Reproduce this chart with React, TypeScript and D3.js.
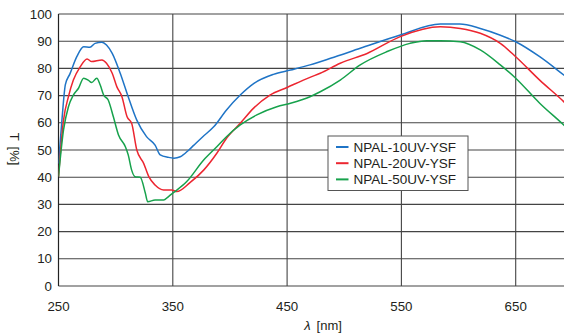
import React, { useRef, useEffect } from "react";
import * as d3 from "d3";

const X_TICKS = [250, 350, 450, 550, 650];
const Y_TICKS = [0, 10, 20, 30, 40, 50, 60, 70, 80, 90, 100];
const SERIES_NAMES = ["NPAL-10UV-YSF", "NPAL-20UV-YSF", "NPAL-50UV-YSF"];
const SERIES_COLORS = ["#1f74c6", "#ec2630", "#17a24c"];

// NPAL-10UV-YSF
const NM_10 = [250, 253, 256, 260, 266, 272, 277.5, 282, 288, 292, 297, 304, 310, 318.5, 327, 334.5, 339, 346, 351, 356.5, 364, 368, 376, 386, 397, 409, 421, 438, 453, 470, 488, 514, 549, 584, 601, 619, 636, 650, 671, 692, 700];
const T_10 = [45, 61, 74, 78, 84.3, 88, 87.8, 89.2, 89.6, 88.6, 85.5, 78.2, 70.8, 61, 54.9, 51.8, 48.2, 47.3, 47, 47.5, 50, 51.6, 54.8, 58.6, 64.7, 70.2, 74.5, 77.8, 79.4, 81.3, 83.7, 87.4, 92.3, 96.3, 96.3, 94.7, 92.3, 89.8, 84.3, 77.6, 75];

// NPAL-20UV-YSF
const NM_20 = [250, 254.4, 258.7, 263, 269, 275, 279, 288, 292, 297, 301, 305.5, 310, 314, 318.5, 324.5, 329, 334.5, 342, 349, 353.5, 365, 377, 388.5, 397, 409, 420.5, 435, 450, 470, 479, 496.5, 520, 549, 584, 601.5, 619, 636.5, 650, 671, 692, 700];
const T_20 = [40.2, 61, 69.6, 75.7, 80.6, 83.5, 82.5, 83.1, 81.9, 78.2, 73.3, 69.6, 62.2, 59.8, 50, 45.1, 40.2, 37.1, 35.3, 35.3, 34.7, 38, 42.6, 48.8, 54.3, 59.8, 65.3, 70.2, 73, 76.7, 78.2, 81.9, 85.5, 91.7, 95.3, 94.7, 92.9, 89.2, 84.3, 75.7, 67.8, 64.5];

// NPAL-50UV-YSF
const NM_50 = [250, 254.4, 258.7, 263, 267.5, 272, 276, 279, 283.5, 286.5, 289.5, 293.5, 298, 302.5, 308.5, 311, 314, 317, 321.5, 326, 328, 334.5, 342, 346, 350.5, 362, 377, 388.5, 397, 409, 423.5, 441, 453, 470, 479, 496.5, 514, 537, 557.5, 572, 584, 601.5, 619, 636.5, 650, 671, 692, 700];
const T_50 = [40.2, 57.4, 65.9, 70.2, 72.7, 76.4, 75.7, 74.8, 76.4, 73.9, 70.2, 68.4, 62.2, 55.5, 51.2, 48.2, 42.6, 40.2, 40, 34.1, 31, 31.6, 31.6, 32.8, 34.3, 38.3, 46.3, 51.2, 54.9, 59.2, 62.9, 65.9, 67.2, 69.6, 71.4, 75.7, 81.3, 86.1, 89.2, 90.2, 90.2, 89.8, 86.8, 81.3, 76.4, 67.2, 59.2, 56];

const SERIES_NM = [NM_10, NM_20, NM_50];
const SERIES_T = [T_10, T_20, T_50];

const W = 564;
const H = 336;
const FONT = "'Liberation Sans', Arial, sans-serif";

const App: React.FC = () => {
  const svgRef = useRef<SVGSVGElement | null>(null);

  useEffect(() => {
    if (!svgRef.current) return;
    const svg = d3.select(svgRef.current);
    svg.selectAll("*").remove();

    const left = 58.5;
    const top = 14;
    const bottom = 286;
    const x = d3.scaleLinear().domain([250, 700]).range([left, left + 450 * 1.143]);
    const y = d3.scaleLinear().domain([0, 100]).range([bottom, top]);

    svg
      .append("defs")
      .append("clipPath")
      .attr("id", "plot-clip")
      .append("rect")
      .attr("x", left)
      .attr("y", top - 2)
      .attr("width", W - left)
      .attr("height", bottom - top + 4);

    const g = svg.append("g");

    /* grid */
    g.selectAll(".hgrid")
      .data(Y_TICKS)
      .join("line")
      .attr("x1", left)
      .attr("x2", W)
      .attr("y1", (d) => y(d))
      .attr("y2", (d) => y(d))
      .attr("stroke", "#444")
      .attr("stroke-width", 1.1);

    g.selectAll(".vgrid")
      .data(X_TICKS.slice(1))
      .join("line")
      .attr("x1", (d) => x(d))
      .attr("x2", (d) => x(d))
      .attr("y1", top)
      .attr("y2", bottom)
      .attr("stroke", "#444")
      .attr("stroke-width", 1.1);

    g.append("line")
      .attr("x1", left)
      .attr("x2", left)
      .attr("y1", top)
      .attr("y2", bottom)
      .attr("stroke", "#222")
      .attr("stroke-width", 1.2);

    /* tick labels */
    g.selectAll(".ylab")
      .data(Y_TICKS)
      .join("text")
      .attr("x", 52)
      .attr("y", (d) => y(d) + 4.6)
      .attr("text-anchor", "end")
      .attr("font-family", FONT)
      .attr("font-size", "13.3px")
      .attr("fill", "#231f20")
      .text((d) => d);

    g.selectAll(".xlab")
      .data(X_TICKS)
      .join("text")
      .attr("x", (d) => x(d))
      .attr("y", 310.5)
      .attr("text-anchor", "middle")
      .attr("font-family", FONT)
      .attr("font-size", "13.3px")
      .attr("fill", "#231f20")
      .text((d) => d);

    const xt = g
      .append("text")
      .attr("x", 323)
      .attr("y", 330)
      .attr("text-anchor", "middle")
      .attr("font-family", FONT)
      .attr("font-size", "13px")
      .attr("fill", "#231f20");
    xt.append("tspan").attr("font-style", "italic").text("λ");
    xt.append("tspan").attr("dx", 6).text("[nm]");

    const yt = g
      .append("text")
      .attr("transform", "translate(10,149) rotate(90)")
      .attr("text-anchor", "middle")
      .attr("font-family", FONT)
      .attr("font-size", "13px")
      .attr("fill", "#231f20");
    yt.append("tspan").text("T");
    yt.append("tspan").attr("dx", 6).text("[%]");

    /* curves */
    const line = d3
      .line<[number, number]>()
      .x((d) => x(d[0]))
      .y((d) => y(d[1]))
      .curve(d3.curveMonotoneX);

    const curves = g.append("g").attr("clip-path", "url(#plot-clip)");
    SERIES_NAMES.forEach((name, i) => {
      const pts = SERIES_NM[i].map((nm, k) => [nm, SERIES_T[i][k]] as [number, number]);
      curves
        .append("path")
        .attr("d", line(pts))
        .attr("fill", "none")
        .attr("stroke", SERIES_COLORS[i])
        .attr("stroke-width", 1.5);
    });

    /* legend */
    const lg = g.append("g").attr("transform", "translate(328,136)");
    lg.append("rect")
      .attr("width", 140)
      .attr("height", 54.5)
      .attr("fill", "#fff")
      .attr("stroke", "#555")
      .attr("stroke-width", 1);
    SERIES_NAMES.forEach((name, i) => {
      const cy = 11 + i * 16.2;
      lg.append("line")
        .attr("x1", 8)
        .attr("x2", 20.5)
        .attr("y1", cy)
        .attr("y2", cy)
        .attr("stroke", SERIES_COLORS[i])
        .attr("stroke-width", 2);
      lg.append("text")
        .attr("x", 25.5)
        .attr("y", cy + 4.8)
        .attr("font-family", FONT)
        .attr("font-size", "13.5px")
        .attr("fill", "#231f20")
        .text(name);
    });
  }, []);

  return (
    <svg
      ref={svgRef}
      width={W}
      height={H}
      style={{ position: "absolute", left: 0, top: 0, background: "#fff", display: "block" }}
    />
  );
};

export default App;
